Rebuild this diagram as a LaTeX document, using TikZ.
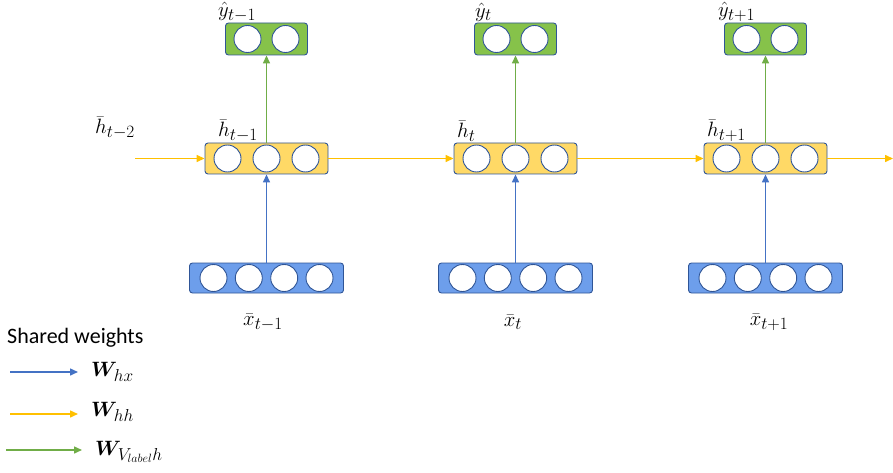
\documentclass[tikz,border=0pt]{standalone}
\usepackage{fontspec}
\usepackage{bm}
\setmainfont{Carlito}
\DeclareMathSizes{22}{22}{17}{13}
\usetikzlibrary{arrows.meta}
\definecolor{yelfill}{HTML}{FFD966}
\definecolor{grnfill}{HTML}{86C24A}
\definecolor{blufill}{HTML}{6D9EEB}
\definecolor{bordc}{HTML}{2F5597}
\definecolor{yelline}{HTML}{FFC000}
\definecolor{grnline}{HTML}{70AD47}
\definecolor{bluline}{HTML}{4472C4}
\tikzset{
  box/.style={draw=bordc, rounded corners=3pt, line width=0.9pt, inner sep=0pt},
  hbox/.style={box, fill=yelfill, minimum width=123pt, minimum height=31pt},
  ybox/.style={box, fill=grnfill, minimum width=82pt, minimum height=32pt},
  xbox/.style={box, fill=blufill, minimum width=154pt, minimum height=30pt},
  neuron/.style={circle, draw=bordc, fill=white, minimum size=27pt, inner sep=0pt, line width=0.9pt},
  conn/.style={line width=1.5pt, -{Triangle[length=8pt,width=7pt]}},
  yconn/.style={conn, draw=yelline, color=yelline},
  gconn/.style={conn, draw=grnline, color=grnline},
  bconn/.style={conn, draw=bluline, color=bluline},
  lab/.style={inner sep=0pt, font=\fontsize{22}{26}\selectfont},
}
\begin{document}
\begin{tikzpicture}[x=1pt,y=-1pt]
\useasboundingbox (0,0) rectangle (893,473);
\foreach \i/\cx in {1/266.5, 2/515.5, 3/765.5} {
  \node[hbox] (h\i) at (\cx,158.5) {};
  \node[ybox] (y\i) at (\cx,39) {};
  \node[xbox] (x\i) at (\cx,278) {};
  \foreach \j/\dx in {1/-39, 2/0, 3/39}
    \node[neuron] (h\i n\j) at (\cx+\dx,158.5) {};
  \foreach \j/\dx in {1/-19, 2/19}
    \node[neuron] (y\i n\j) at (\cx+\dx,39) {};
  \foreach \j/\dx in {1/-53, 2/-17.7, 3/17.7, 4/53}
    \node[neuron] (x\i n\j) at (\cx+\dx,278) {};
  \draw[gconn] (h\i.north) -- (y\i.south);
  \draw[bconn] (x\i.north) -- (h\i.south);
}
% labels
\node[lab, anchor=west] (ly1) at (218,12) {$\hat{y}_{t-1}$};
\node[lab, anchor=west] (ly2) at (475,12) {$\hat{y}_{t}$};
\node[lab, anchor=west] (ly3) at (718,12) {$\hat{y}_{t+1}$};
\node[lab, anchor=west] (lh1) at (218,131) {$\bar{h}_{t-1}$};
\node[lab, anchor=west] (lh2) at (457,131) {$\bar{h}_{t}$};
\node[lab, anchor=west] (lh3) at (707,131) {$\bar{h}_{t+1}$};
\node[lab] (lx1) at (263,322) {$\bar{x}_{t-1}$};
\node[lab] (lx2) at (513,322) {$\bar{x}_{t}$};
\node[lab] (lx3) at (769,322) {$\bar{x}_{t+1}$};
\node[lab, anchor=west] (lh0) at (95,128) {$\bar{h}_{t-2}$};
% recurrent connections
\coordinate (hin) at (135,158.5);
\coordinate (hout) at (893,158.5);
\draw[yconn] (hin) -- (h1.west);
\draw[yconn] (h1.east) -- (h2.west);
\draw[yconn] (h2.east) -- (h3.west);
\draw[yconn] (h3.east) -- (hout);
% legend
\node[lab, anchor=west] (shw) at (7,338) {Shared weights};
\coordinate (lb0) at (10,372); \coordinate (lb1) at (78,372);
\coordinate (ly0) at (10,414); \coordinate (ly1e) at (78,414);
\coordinate (lg0) at (6,450); \coordinate (lg1) at (82,450);
\draw[bconn] (lb0) -- (lb1);
\draw[yconn] (ly0) -- (ly1e);
\draw[gconn] (lg0) -- (lg1);
\node[lab, anchor=west] (wx) at (91,372) {$\bm{W}_{hx}$};
\node[lab, anchor=west] (wh) at (91,412) {$\bm{W}_{hh}$};
\node[lab, anchor=west] (wv) at (95,452) {$\bm{W}_{V_{label}h}$};
\end{tikzpicture}
\end{document}
